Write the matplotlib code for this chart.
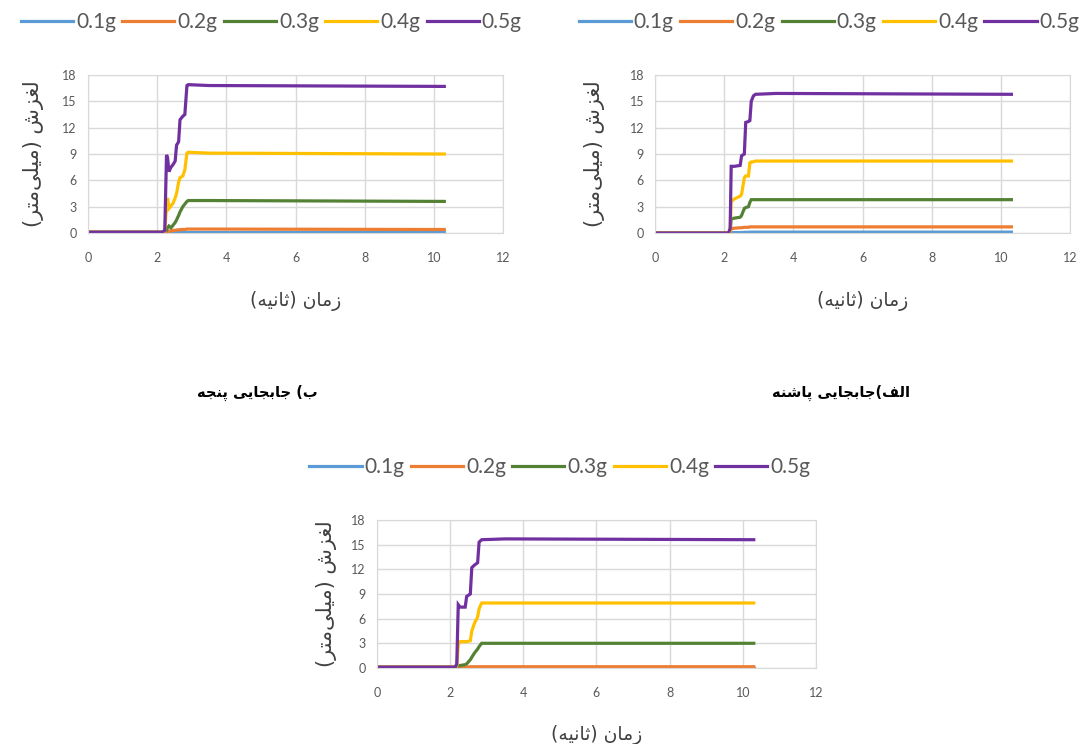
import matplotlib
matplotlib.use("Agg")
import matplotlib.pyplot as plt

plt.rcParams['font.family'] = ['Lato', 'DejaVu Sans']

# series labels and colours (Excel style)
labels = ['0.1g', '0.2g', '0.3g', '0.4g', '0.5g']
colors = ['#5B9BD5', '#ED7D31', '#548235', '#FFC000', '#7030A0']

# panel "ب" (toe) - top left
toe_time = [0, 2.15, 2.22, 2.27, 2.30, 2.34, 2.40, 2.46, 2.52, 2.56, 2.62, 2.66, 2.74, 2.80, 2.86, 2.90, 3.50, 10.3]
toe_01 = [0.0, 0.0, 0.0, 0.02, 0.03, 0.04, 0.05, 0.05, 0.05, 0.05, 0.05, 0.05, 0.05, 0.05, 0.05, 0.05, 0.05, 0.05]
toe_02 = [0.05, 0.05, 0.05, 0.1, 0.15, 0.2, 0.25, 0.3, 0.3, 0.35, 0.35, 0.4, 0.4, 0.4, 0.45, 0.45, 0.45, 0.4]
toe_03 = [0.1, 0.1, 0.1, 0.3, 0.6, 0.8, 0.6, 0.9, 1.2, 1.5, 2.0, 2.4, 3.0, 3.3, 3.6, 3.7, 3.7, 3.6]
toe_04 = [0.1, 0.1, 0.2, 3.0, 4.0, 2.8, 3.1, 3.4, 4.0, 4.5, 5.8, 6.3, 6.5, 7.2, 9.1, 9.2, 9.1, 9.0]
toe_05 = [0.1, 0.1, 0.3, 8.9, 8.6, 7.0, 7.5, 7.8, 8.2, 10.0, 10.4, 12.9, 13.3, 13.5, 16.8, 16.9, 16.8, 16.7]

# panel "الف" (heel) - top right
heel_time = [0, 2.12, 2.17, 2.20, 2.30, 2.46, 2.50, 2.58, 2.62, 2.70, 2.74, 2.78, 2.84, 2.90, 3.50, 10.3]
heel_01 = [0.0, 0.0, 0.0, 0.05, 0.05, 0.05, 0.05, 0.08, 0.08, 0.08, 0.1, 0.1, 0.1, 0.1, 0.1, 0.1]
heel_02 = [0.0, 0.0, 0.1, 0.5, 0.55, 0.6, 0.6, 0.65, 0.65, 0.65, 0.7, 0.7, 0.7, 0.7, 0.7, 0.7]
heel_03 = [0.0, 0.0, 0.2, 1.6, 1.7, 1.8, 2.0, 2.8, 2.9, 3.0, 3.5, 3.8, 3.8, 3.8, 3.8, 3.8]
heel_04 = [0.0, 0.0, 0.2, 3.6, 3.9, 4.2, 4.4, 6.3, 6.5, 6.5, 8.0, 8.1, 8.1, 8.2, 8.2, 8.2]
heel_05 = [0.0, 0.0, 0.5, 7.6, 7.6, 7.7, 8.8, 9.0, 12.6, 12.7, 12.8, 15.0, 15.6, 15.8, 15.9, 15.8]

# third panel - bottom
bot_time = [0, 2.14, 2.18, 2.22, 2.27, 2.41, 2.45, 2.55, 2.59, 2.66, 2.75, 2.79, 2.86, 3.50, 10.3]
bot_01 = [0.05, 0.05, 0.05, 0.05, 0.05, 0.05, 0.05, 0.05, 0.05, 0.05, 0.05, 0.05, 0.05, 0.05, 0.05]
bot_02 = [0.1, 0.1, 0.1, 0.1, 0.12, 0.12, 0.12, 0.15, 0.15, 0.15, 0.15, 0.15, 0.15, 0.15, 0.15]
bot_03 = [0.1, 0.1, 0.1, 0.2, 0.3, 0.4, 0.5, 1.0, 1.3, 1.8, 2.3, 2.6, 3.0, 3.0, 3.0]
bot_04 = [0.1, 0.1, 0.2, 2.8, 3.2, 3.2, 3.2, 3.3, 4.5, 5.4, 6.2, 7.2, 7.9, 7.9, 7.9]
bot_05 = [0.1, 0.1, 0.5, 7.7, 7.4, 7.4, 8.7, 9.0, 12.2, 12.5, 12.8, 15.3, 15.6, 15.7, 15.6]

x_ticks = [0, 2, 4, 6, 8, 10, 12]
y_ticks = [0, 3, 6, 9, 12, 15, 18]

# texts in logical order
ylabel_txt = 'لغزش (میلی\u200cمتر)'
xlabel_txt = 'زمان (ثانیه)'
caption_toe = 'ب) جابجایی پنجه'
caption_heel = 'الف)جابجایی پاشنه'

# --- minimal arabic-script shaping (matplotlib has no RTL shaping) ---
FORMS = {
    'ا': (0xFE8D, 0xFE8E, None, None),
    'ب': (0xFE8F, 0xFE90, 0xFE91, 0xFE92),
    'پ': (0xFB56, 0xFB57, 0xFB58, 0xFB59),
    'ت': (0xFE95, 0xFE96, 0xFE97, 0xFE98),
    'ث': (0xFE99, 0xFE9A, 0xFE9B, 0xFE9C),
    'ج': (0xFE9D, 0xFE9E, 0xFE9F, 0xFEA0),
    'ر': (0xFEAD, 0xFEAE, None, None),
    'ز': (0xFEAF, 0xFEB0, None, None),
    'ش': (0xFEB5, 0xFEB6, 0xFEB7, 0xFEB8),
    'غ': (0xFECD, 0xFECE, 0xFECF, 0xFED0),
    'ف': (0xFED1, 0xFED2, 0xFED3, 0xFED4),
    'ل': (0xFEDD, 0xFEDE, 0xFEDF, 0xFEE0),
    'م': (0xFEE1, 0xFEE2, 0xFEE3, 0xFEE4),
    'ن': (0xFEE5, 0xFEE6, 0xFEE7, 0xFEE8),
    'ه': (0xFEE9, 0xFEEA, 0xFEEB, 0xFEEC),
    'ی': (0xFBFC, 0xFBFD, 0xFBFE, 0xFBFF),
}


def rtl(s, mirror=True):
    out = []
    for i, c in enumerate(s):
        if c not in FORMS:
            if c != '\u200c':
                out.append(c)
            continue
        f = FORMS[c]
        prev = s[i - 1] if i > 0 else ''
        nxt = s[i + 1] if i + 1 < len(s) else ''
        join_prev = prev in FORMS and FORMS[prev][2] is not None
        join_next = f[2] is not None and nxt in FORMS
        if join_prev and join_next:
            g = f[3]
        elif join_prev:
            g = f[1]
        elif join_next:
            g = f[2]
        else:
            g = f[0]
        out.append(chr(g))
    vis = ''.join(reversed(out))
    if mirror:
        vis = vis.translate(str.maketrans('()', ')('))
    return vis


fig = plt.figure(figsize=(10.81, 7.44), dpi=100)

panels = [
    # rect, time, series, legend centre (fig coords), ylabel x, xlabel y
    ([0.0814, 0.6868, 0.384, 0.2124], toe_time, [toe_01, toe_02, toe_03, toe_04, toe_05], (0.251, 0.970), -0.105, -0.37),
    ([0.606, 0.6868, 0.384, 0.2124], heel_time, [heel_01, heel_02, heel_03, heel_04, heel_05], (0.767, 0.970), -0.12, -0.37),
    ([0.3488, 0.1022, 0.406, 0.1989], bot_time, [bot_01, bot_02, bot_03, bot_04, bot_05], (0.518, 0.372), -0.092, -0.385),
]

for rect, t, series, leg_pos, ylx, xly in panels:
    ax = fig.add_axes(rect)
    for vals, lab, col in zip(series, labels, colors):
        ax.plot(t, vals, color=col, lw=2.3, label=lab, solid_joinstyle='miter')
    ax.set_xlim(0, 12)
    ax.set_ylim(0, 18)
    ax.set_xticks(x_ticks)
    ax.set_yticks(y_ticks)
    ax.grid(True, color='#D9D9D9', lw=1.0)
    ax.set_axisbelow(True)
    for sp in ax.spines.values():
        sp.set_color('#D9D9D9')
    ax.tick_params(length=0, labelsize=9, labelcolor='#595959', pad=14)
    ax.tick_params(axis='y', pad=8)
    ax.set_ylabel(rtl(ylabel_txt), fontsize=15, color='#404040', family='DejaVu Sans')
    ax.yaxis.set_label_coords(ylx, 0.5)
    ax.set_xlabel(rtl(xlabel_txt), fontsize=13.5, color='#404040', family='DejaVu Sans')
    ax.xaxis.set_label_coords(0.5, xly)
    ax.legend(loc='center', bbox_to_anchor=leg_pos, bbox_transform=fig.transFigure,
              ncol=5, frameon=False, fontsize=15, handlelength=2.5, handletextpad=0.15,
              columnspacing=0.3, labelcolor='#595959')

fig.text(0.238, 0.472, rtl(caption_toe), fontsize=10.5, fontweight='bold',
         family='DejaVu Sans', ha='center', va='center')
fig.text(0.778, 0.472, rtl(caption_heel), fontsize=10.5, fontweight='bold',
         family='DejaVu Sans', ha='center', va='center')

plt.savefig("out.png", dpi=100)
